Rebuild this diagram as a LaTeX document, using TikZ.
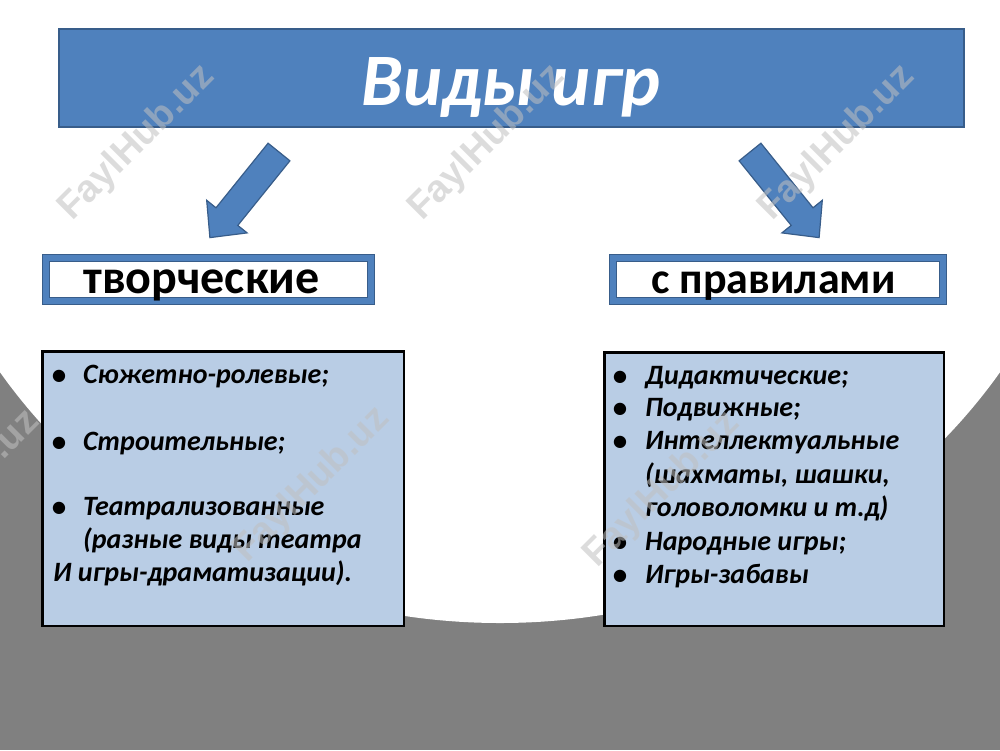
\documentclass[tikz,border=0pt]{standalone}
\usepackage{fontspec}
\setmainfont{Carlito}
\newfontfamily\wmfamily{Liberation Sans}
\definecolor{titleblue}{HTML}{4F81BD}
\definecolor{titleedge}{HTML}{385D8A}
\definecolor{boxfill}{HTML}{B9CDE5}
\definecolor{bggray}{HTML}{808080}
\definecolor{wmgray}{HTML}{C0C0C0}
\tikzset{
  titlebox/.style={draw=titleedge, line width=2pt, fill=titleblue, inner sep=0pt},
  titletxt/.style={text=white, inner sep=0pt, anchor=base, font=\fontsize{74}{86}\selectfont\bfseries\itshape},
  blockarrow/.style={fill=titleblue, draw=titleedge, line width=1.2pt, line join=miter},
  labelbox/.style={draw=titleedge, line width=1.3pt, double=titleblue, double distance=5.6pt, fill=white, inner sep=0pt},
  labeltxt/.style={inner sep=0pt, anchor=base, font=\fontsize{44}{54}\selectfont\bfseries},
  listbox/.style={draw=black, line width=2.5pt, fill=boxfill, inner sep=0pt},
  itemtxt/.style={inner sep=0pt, anchor=base west, font=\fontsize{28}{33}\selectfont\bfseries\itshape},
  bullettxt/.style={inner sep=0pt, anchor=base, font=\fontsize{29}{33}\selectfont\bfseries},
  wm/.style={text=wmgray, text opacity=0.55, rotate=45, inner sep=0pt, font=\wmfamily\fontsize{38}{40}\selectfont\bfseries}
}
\begin{document}
\begin{tikzpicture}[x=1pt,y=-1pt]
\useasboundingbox (0,0) rectangle (1000,750);
% background
\begin{scope}
  \clip (0,0) rectangle (1000,750);
  \fill[white] (0,0) rectangle (1000,750);
  \fill[bggray] (0,300) rectangle (1000,750);
  \fill[white] (500,62) ellipse [x radius=600pt, y radius=561pt];
\end{scope}
% title
\node[titlebox, minimum width=905pt, minimum height=98pt] (title) at (511.5,78) {};
\node[titletxt] (titletext) at (511,105) {Виды игр};
% block arrows
\draw[blockarrow] (289.9,160.8) -- (268.1,143.2) -- (216.0,207.8) -- (206.7,200.3) -- (209.9,237.6) -- (247.1,232.9) -- (237.8,225.4) -- cycle;
\draw[blockarrow] (739.1,160.8) -- (760.9,143.2) -- (813.0,207.8) -- (822.3,200.3) -- (819.1,237.6) -- (781.9,232.9) -- (791.2,225.4) -- cycle;
% label boxes
\node[labelbox, minimum width=324.6pt, minimum height=42.6pt] (creative) at (208.5,279.5) {};
\node[labeltxt, font=\fontsize{48}{54}\selectfont\bfseries] (creativetxt) at (201.5,293) {творческие};
\node[labelbox, minimum width=329.6pt, minimum height=42.6pt] (rules) at (778,279.5) {};
\node[labeltxt] (rulestxt) at (773.5,293) {с правилами};
% list boxes
\node[listbox, minimum width=361.5pt, minimum height=274.5pt] (leftlist) at (223,488.5) {};
\node[listbox, minimum width=339.5pt, minimum height=273.5pt] (rightlist) at (774,489) {};
% left list
\node[bullettxt] (lb1) at (59,384) {•};
\node[itemtxt] (lt1) at (83,383) {Сюжетно-ролевые;};
\node[bullettxt] (lb2) at (59,451) {•};
\node[itemtxt] (lt2) at (83,450) {Строительные;};
\node[bullettxt] (lb3) at (59,516) {•};
\node[itemtxt] (lt3) at (83,515) {Театрализованные};
\node[itemtxt] (lt4) at (83,548) {(разные виды театра};
\node[itemtxt] (lt5) at (53,581) {И игры-драматизации).};
% right list
\node[bullettxt] (rb1) at (620,385) {•};
\node[itemtxt] (rt1) at (645,384) {Дидактические;};
\node[bullettxt] (rb2) at (620,417) {•};
\node[itemtxt] (rt2) at (645,416) {Подвижные;};
\node[bullettxt] (rb3) at (620,450) {•};
\node[itemtxt] (rt3) at (645,449) {Интеллектуальные};
\node[itemtxt] (rt4) at (645,483) {(шахматы, шашки,};
\node[itemtxt] (rt5) at (645,516) {головоломки и т.д)};
\node[bullettxt] (rb6) at (620,551) {•};
\node[itemtxt] (rt6) at (645,550) {Народные игры;};
\node[bullettxt] (rb7) at (620,584) {•};
\node[itemtxt] (rt7) at (645,583) {Игры-забавы};
% watermarks
\node[wm] (wm1) at (137,143) {FaylHub.uz};
\node[wm] (wm2) at (487,143) {FaylHub.uz};
\node[wm] (wm3) at (837,143) {FaylHub.uz};
\node[wm] (wm4) at (-38,488) {FaylHub.uz};
\node[wm] (wm5) at (312,485) {FaylHub.uz};
\node[wm] (wm6) at (662,490) {FaylHub.uz};
\end{tikzpicture}
\end{document}
